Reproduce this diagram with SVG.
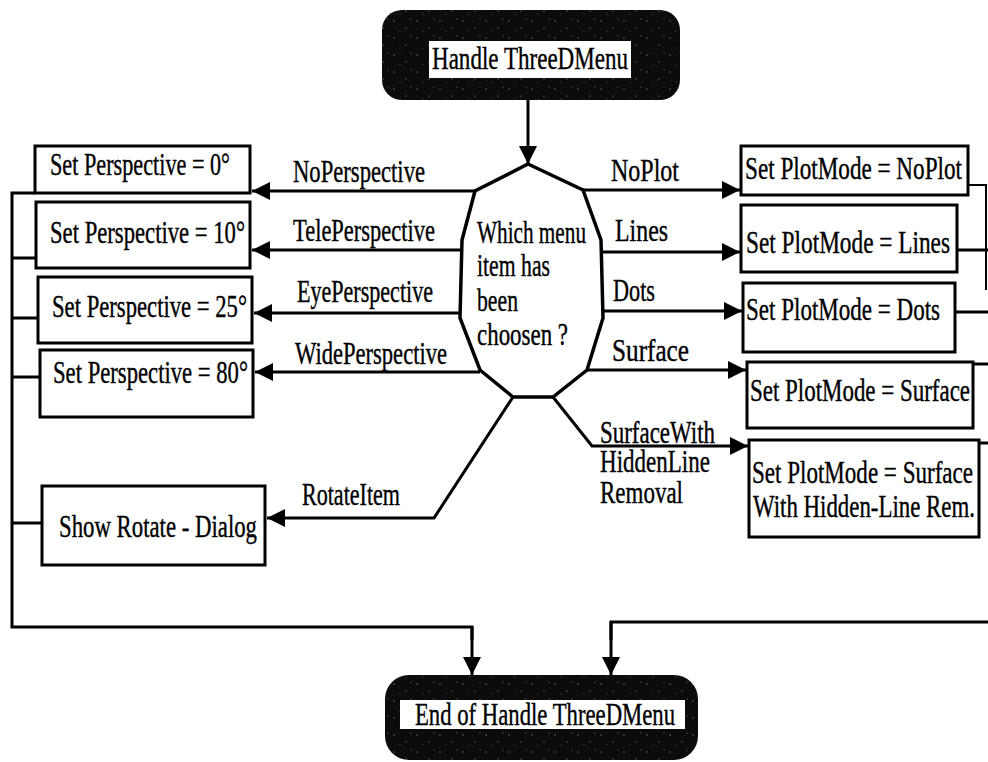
<svg xmlns="http://www.w3.org/2000/svg" width="988" height="762" viewBox="0 0 988 762">
  <defs>
    <style>
      .box { fill: #fff; stroke: #000; stroke-width: 3; }
      .term { fill: url(#grain); }
      .label-bg { fill: #fff; }
      .wire { fill: none; stroke: #000; stroke-width: 3; stroke-linejoin: miter; }
      .thin { fill: none; stroke: #000; stroke-width: 2; }
      .arrow { fill: none; stroke: #000; stroke-width: 3; marker-end: url(#head); }
      .decision { fill: #fff; stroke: #000; stroke-width: 3.5; stroke-linejoin: miter; }
      text { font-family: "Liberation Serif", "Times New Roman", serif; font-size: 32px; fill: #000; stroke: #000; stroke-width: 0.4; }
    </style>
    <marker id="head" markerUnits="userSpaceOnUse" markerWidth="20" markerHeight="20" refX="18" refY="9" orient="auto">
      <path d="M0,0 L18,9 L0,18 z" fill="#000"/>
    </marker>
    <!-- speckled dark fill for start / end terminals -->
    <pattern id="grain" width="23" height="17" patternUnits="userSpaceOnUse">
      <rect width="23" height="17" fill="#0c0c0c"/>
      <circle cx="3" cy="4" r="0.7" fill="#777"/>
      <circle cx="15" cy="11" r="0.6" fill="#999"/>
      <circle cx="9" cy="14" r="0.5" fill="#666"/>
      <circle cx="20" cy="2" r="0.5" fill="#888"/>
    </pattern>
  </defs>

  <!-- start terminal -->
  <g id="start">
    <rect class="term" x="382" y="10" width="298" height="90" rx="20"/>
    <rect class="label-bg" x="429" y="41" width="202" height="37"/>
    <text x="432" y="69" textLength="196" lengthAdjust="spacingAndGlyphs">Handle ThreeDMenu</text>
  </g>

  <!-- decision -->
  <g id="decision">
    <polygon class="decision" points="528,164 583,190 601,240 603,318 587,370 553,397 513,397 480,370 460,318 462,240 475,191"/>
    <text x="477" y="243" textLength="109" lengthAdjust="spacingAndGlyphs">Which menu</text>
    <text x="477" y="276" textLength="73" lengthAdjust="spacingAndGlyphs">item has</text>
    <text x="477" y="311" textLength="41" lengthAdjust="spacingAndGlyphs">been</text>
    <text x="477" y="345" textLength="91" lengthAdjust="spacingAndGlyphs">choosen ?</text>
  </g>

  <!-- perspective actions -->
  <g id="persp0">
    <rect class="box" x="35" y="146" width="215" height="47"/>
    <text x="50" y="175" textLength="180" lengthAdjust="spacingAndGlyphs">Set Perspective = 0°</text>
  </g>
  <g id="persp10">
    <rect class="box" x="36" y="202" width="214" height="66"/>
    <text x="50" y="243" textLength="195" lengthAdjust="spacingAndGlyphs">Set Perspective = 10°</text>
  </g>
  <g id="persp25">
    <rect class="box" x="38" y="277" width="214" height="66"/>
    <text x="52" y="317" textLength="195" lengthAdjust="spacingAndGlyphs">Set Perspective = 25°</text>
  </g>
  <g id="persp80">
    <rect class="box" x="40" y="350" width="213" height="67"/>
    <text x="53" y="383" textLength="195" lengthAdjust="spacingAndGlyphs">Set Perspective = 80°</text>
  </g>
  <g id="rotate">
    <rect class="box" x="42" y="486" width="223" height="79"/>
    <text x="59" y="537" textLength="198" lengthAdjust="spacingAndGlyphs">Show Rotate - Dialog</text>
  </g>

  <!-- plot mode actions -->
  <g id="noplot">
    <rect class="box" x="741" y="146" width="227" height="49"/>
    <text x="745" y="179" textLength="217" lengthAdjust="spacingAndGlyphs">Set PlotMode = NoPlot</text>
  </g>
  <g id="lines">
    <rect class="box" x="741" y="205" width="216" height="67"/>
    <text x="746" y="253" textLength="204" lengthAdjust="spacingAndGlyphs">Set PlotMode = Lines</text>
  </g>
  <g id="dots">
    <rect class="box" x="743" y="283" width="212" height="69"/>
    <text x="746" y="320" textLength="194" lengthAdjust="spacingAndGlyphs">Set PlotMode = Dots</text>
  </g>
  <g id="surface">
    <rect class="box" x="747" y="362" width="226" height="66"/>
    <text x="750" y="401" textLength="220" lengthAdjust="spacingAndGlyphs">Set PlotMode = Surface</text>
  </g>
  <g id="hiddenline">
    <rect class="box" x="749" y="440" width="230" height="97"/>
    <text x="752" y="483" textLength="221" lengthAdjust="spacingAndGlyphs">Set PlotMode = Surface</text>
    <text x="753" y="517" textLength="222" lengthAdjust="spacingAndGlyphs">With Hidden-Line Rem.</text>
  </g>

  <!-- end terminal -->
  <g id="end">
    <rect class="term" x="385" y="675" width="313" height="85" rx="24"/>
    <rect class="label-bg" x="400" y="700" width="285" height="29"/>
    <text x="415" y="725" textLength="260" lengthAdjust="spacingAndGlyphs">End of Handle ThreeDMenu</text>
  </g>

  <!-- connectors -->
  <g id="connectors">
    <line class="arrow" x1="528" y1="100" x2="528" y2="164"/>

    <!-- left branches -->
    <line class="arrow" x1="475" y1="191" x2="252" y2="191"/>
    <line class="arrow" x1="461" y1="250" x2="252" y2="250"/>
    <line class="arrow" x1="460" y1="313" x2="254" y2="313"/>
    <line class="arrow" x1="480" y1="372" x2="255" y2="372"/>
    <polyline class="arrow" points="513,397 434,518 267,518"/>

    <!-- right branches -->
    <line class="arrow" x1="583" y1="190" x2="740" y2="190"/>
    <line class="arrow" x1="601" y1="252" x2="740" y2="252"/>
    <line class="arrow" x1="603" y1="311" x2="742" y2="311"/>
    <line class="arrow" x1="587" y1="370" x2="746" y2="370"/>
    <polyline class="arrow" points="553,397 592,446 748,446"/>

    <!-- left collector -->
    <polyline class="wire" points="35,193 12,193 12,627 472,627 472,640"/>
    <line class="arrow" x1="472" y1="627" x2="472" y2="675"/>
    <line class="wire" x1="12" y1="258" x2="36" y2="258"/>
    <line class="wire" x1="12" y1="318" x2="38" y2="318"/>
    <line class="wire" x1="12" y1="377" x2="40" y2="377"/>
    <line class="wire" x1="12" y1="523" x2="42" y2="523"/>

    <!-- right collector -->
    <polyline class="thin" points="968,185 986,185 986,290"/>
    <line class="wire" x1="957" y1="250" x2="988" y2="250"/>
    <line class="wire" x1="955" y1="312" x2="988" y2="312"/>
    <line class="wire" x1="973" y1="364" x2="988" y2="364"/>
    <line class="wire" x1="979" y1="443" x2="988" y2="443"/>
    <polyline class="wire" points="988,622 611,622 611,640"/>
    <line class="arrow" x1="611" y1="622" x2="611" y2="675"/>
  </g>

  <!-- branch labels -->
  <g id="branch-labels">
    <text x="293" y="182" textLength="132" lengthAdjust="spacingAndGlyphs">NoPerspective</text>
    <text x="293" y="241" textLength="142" lengthAdjust="spacingAndGlyphs">TelePerspective</text>
    <text x="297" y="302" textLength="136" lengthAdjust="spacingAndGlyphs">EyePerspective</text>
    <text x="295" y="364" textLength="152" lengthAdjust="spacingAndGlyphs">WidePerspective</text>
    <text x="302" y="505" textLength="98" lengthAdjust="spacingAndGlyphs">RotateItem</text>
    <text x="611" y="181" textLength="68" lengthAdjust="spacingAndGlyphs">NoPlot</text>
    <text x="615" y="241" textLength="53" lengthAdjust="spacingAndGlyphs">Lines</text>
    <text x="613" y="301" textLength="42" lengthAdjust="spacingAndGlyphs">Dots</text>
    <text x="612" y="361" textLength="77" lengthAdjust="spacingAndGlyphs">Surface</text>
    <text x="600" y="443" textLength="115" lengthAdjust="spacingAndGlyphs">SurfaceWith</text>
    <text x="600" y="472" textLength="110" lengthAdjust="spacingAndGlyphs">HiddenLine</text>
    <text x="600" y="503" textLength="83" lengthAdjust="spacingAndGlyphs">Removal</text>
  </g>
</svg>
